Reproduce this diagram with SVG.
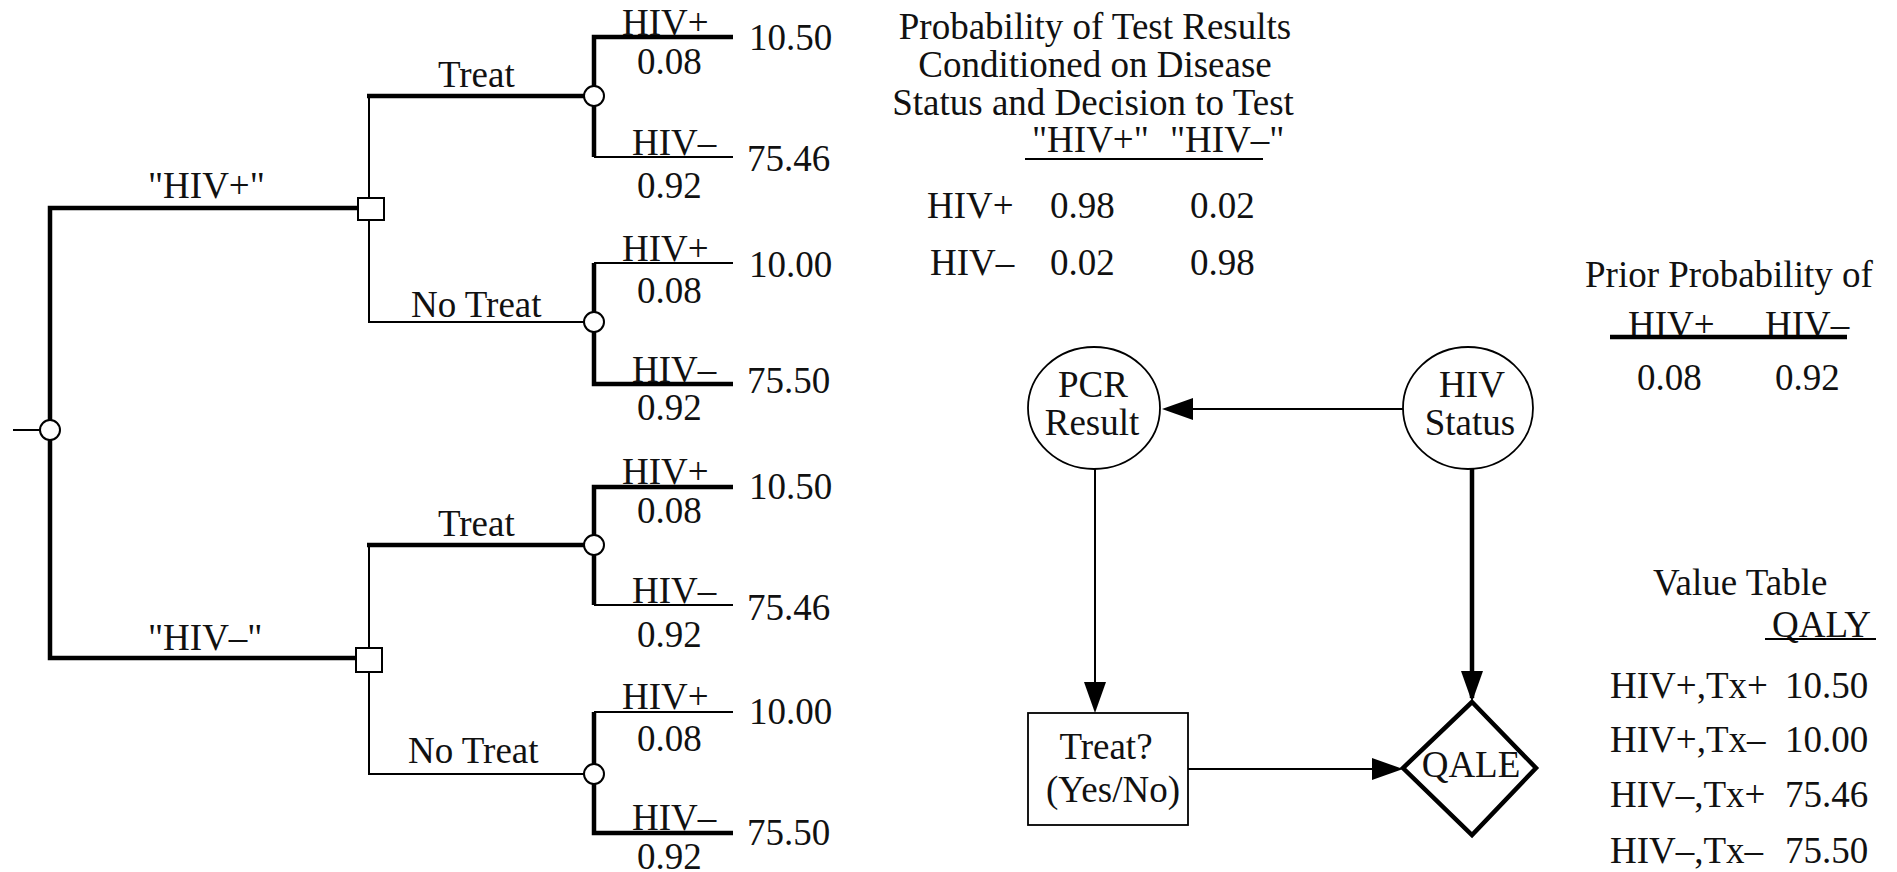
<svg xmlns="http://www.w3.org/2000/svg" width="1897" height="872" viewBox="0 0 1897 872">
<style>
text{font-family:"Liberation Serif","Times New Roman",serif;font-size:37px;fill:#111}
.m{text-anchor:middle}
.thin{stroke:#000;stroke-width:2;fill:none}
.thick{stroke:#000;stroke-width:4.5;fill:none}
.chance{fill:#fff;stroke:#000;stroke-width:2}
.dec{fill:#fff;stroke:#000;stroke-width:2}
.inode{fill:#fff;stroke:#000;stroke-width:1.8}
</style>
<defs>
<marker id="ah" markerUnits="userSpaceOnUse" markerWidth="34" markerHeight="24" refX="27" refY="11" orient="auto">
<path d="M0,0 L31,11 L0,22 z" fill="#000"/>
</marker>
</defs>
<rect width="1897" height="872" fill="#fff"/>

<g id="connectors">
<!-- root -->
<path class="thin" d="M13,430 H42"/>
<path class="thick" d="M358,208 H50 V658 H356"/>
<!-- upper decision -->
<path class="thin" d="M369,198 V96"/>
<path class="thick" d="M367,96 H590"/>
<path class="thin" d="M369,220 V322 H590"/>
<!-- lower decision -->
<path class="thin" d="M369,648 V545"/>
<path class="thick" d="M367,545 H590"/>
<path class="thin" d="M369,672 V774 H590"/>
<!-- chance A -->
<path class="thick" d="M733,37 H594 V157"/>
<path class="thin" d="M594,157 H733"/>
<!-- chance B -->
<path class="thick" d="M733,384 H594 V263"/>
<path class="thin" d="M594,263 H733"/>
<!-- chance C -->
<path class="thick" d="M733,487 H594 V605"/>
<path class="thin" d="M594,605 H733"/>
<!-- chance D -->
<path class="thick" d="M733,833 H594 V712"/>
<path class="thin" d="M594,712 H733"/>
<!-- influence diagram arrows -->
<line class="thin" x1="1403" y1="409" x2="1166" y2="409" marker-end="url(#ah)"/>
<line class="thin" x1="1095" y1="469" x2="1095" y2="709" marker-end="url(#ah)"/>
<line class="thin" x1="1188" y1="769" x2="1399" y2="769" marker-end="url(#ah)"/>
<line class="thick" x1="1472" y1="468" x2="1472" y2="698" marker-end="url(#ah)"/>
</g>

<g id="root-node"><circle class="chance" cx="50" cy="430" r="10"/></g>
<g id="decision-hivpos"><rect class="dec" x="358" y="198" width="26" height="22"/></g>
<g id="decision-hivneg"><rect class="dec" x="356" y="648" width="26" height="24"/></g>
<g id="chance-a"><circle class="chance" cx="594" cy="96" r="10"/></g>
<g id="chance-b"><circle class="chance" cx="594" cy="322" r="10"/></g>
<g id="chance-c"><circle class="chance" cx="594" cy="545" r="10"/></g>
<g id="chance-d"><circle class="chance" cx="594" cy="774" r="10"/></g>

<g id="tree-labels">
<text x="148" y="198">"HIV+"</text>
<text x="148" y="650">"HIV–"</text>
<text x="438" y="87">Treat</text>
<text x="411" y="317">No Treat</text>
<text x="438" y="536">Treat</text>
<text x="408" y="763">No Treat</text>

<text x="622" y="35">HIV+</text>
<text x="637" y="74">0.08</text>
<text x="749" y="50">10.50</text>
<text x="632" y="155">HIV–</text>
<text x="747" y="171">75.46</text>
<text x="637" y="198">0.92</text>

<text x="622" y="261">HIV+</text>
<text x="637" y="303">0.08</text>
<text x="749" y="277">10.00</text>
<text x="632" y="382">HIV–</text>
<text x="747" y="393">75.50</text>
<text x="637" y="420">0.92</text>

<text x="622" y="484">HIV+</text>
<text x="637" y="523">0.08</text>
<text x="749" y="499">10.50</text>
<text x="632" y="603">HIV–</text>
<text x="747" y="620">75.46</text>
<text x="637" y="647">0.92</text>

<text x="622" y="709">HIV+</text>
<text x="637" y="751">0.08</text>
<text x="749" y="724">10.00</text>
<text x="632" y="830">HIV–</text>
<text x="747" y="845">75.50</text>
<text x="637" y="869">0.92</text>
</g>

<g id="pcr-result">
<ellipse class="inode" cx="1094" cy="408" rx="66" ry="61"/>
<text class="m" x="1093" y="397">PCR</text>
<text class="m" x="1092" y="435">Result</text>
</g>
<g id="hiv-status">
<ellipse class="inode" cx="1468" cy="408" rx="65" ry="61"/>
<text class="m" x="1472" y="397">HIV</text>
<text class="m" x="1470" y="435">Status</text>
</g>
<g id="treat-decision">
<rect class="inode" x="1028" y="713" width="160" height="112"/>
<text class="m" x="1106" y="759">Treat?</text>
<text class="m" x="1113" y="802">(Yes/No)</text>
</g>
<g id="qale">
<path d="M1472,702 L1536,768 L1472,835 L1403,768 Z" fill="#fff" stroke="#000" stroke-width="4.5" stroke-linejoin="miter"/>
<text class="m" x="1471" y="777">QALE</text>
</g>

<g id="test-table">
<text class="m" x="1095" y="39">Probability of Test Results</text>
<text class="m" x="1095" y="77">Conditioned on Disease</text>
<text class="m" x="1093" y="115">Status and Decision to Test</text>
<text x="1032" y="152">"HIV+"</text>
<text x="1170" y="152">"HIV–"</text>
<line class="thin" x1="1025" y1="159" x2="1263" y2="159"/>
<text x="927" y="218">HIV+</text>
<text x="1050" y="218">0.98</text>
<text x="1190" y="218">0.02</text>
<text x="930" y="275">HIV–</text>
<text x="1050" y="275">0.02</text>
<text x="1190" y="275">0.98</text>
</g>

<g id="prior-table">
<text x="1585" y="287">Prior Probability of</text>
<text x="1628" y="337">HIV+</text>
<text x="1765" y="337">HIV–</text>
<line class="thick" x1="1610" y1="337" x2="1847" y2="337"/>
<text x="1637" y="390">0.08</text>
<text x="1775" y="390">0.92</text>
</g>

<g id="value-table">
<text x="1653" y="595">Value Table</text>
<text x="1772" y="637">QALY</text>
<line class="thin" x1="1765" y1="639" x2="1876" y2="639"/>
<text x="1610" y="698">HIV+,Tx+</text>
<text x="1785" y="698">10.50</text>
<text x="1610" y="752">HIV+,Tx–</text>
<text x="1785" y="752">10.00</text>
<text x="1610" y="807">HIV–,Tx+</text>
<text x="1785" y="807">75.46</text>
<text x="1610" y="863">HIV–,Tx–</text>
<text x="1785" y="863">75.50</text>
</g>
</svg>
